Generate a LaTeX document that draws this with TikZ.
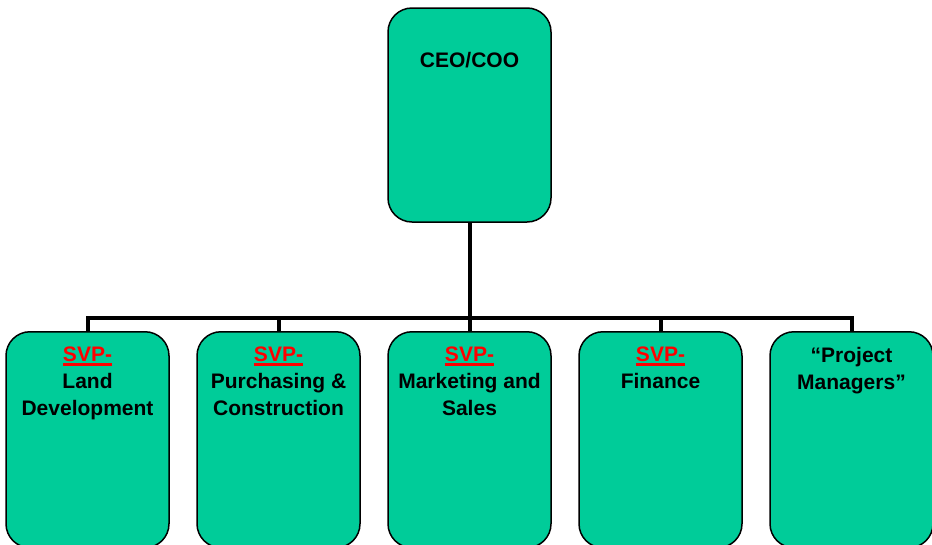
\documentclass[tikz,border=0pt]{standalone}
\usepackage{fontspec}
\setmainfont{Liberation Sans}
\usetikzlibrary{positioning}
\definecolor{boxgreen}{RGB}{0,204,153}
\definecolor{svpred}{RGB}{255,0,0}
\tikzset{
  orgbox/.style={draw=black, line width=1.5pt, fill=boxgreen, rounded corners=24pt, minimum width=163pt, minimum height=216pt, inner sep=0pt},
  lbl/.style={anchor=north, inner sep=0pt, align=center, font=\bfseries\fontsize{21}{27}\selectfont},
  conn/.style={line width=4pt},
}
\newcommand{\svp}{\textcolor{svpred}{\setbox0\hbox{SVP-}\rlap{\rule[-3.8pt]{\wd0}{2.4pt}}\box0}}
\begin{document}
\begin{tikzpicture}[x=1pt,y=-1pt]
\useasboundingbox (0,0) rectangle (932,544);
\clip (0,0) rectangle (932,544);
\node[orgbox, minimum height=214pt] (ceo) at (469.5,115) {};
\node[lbl] (ceot) at (469.5,52) {CEO/COO};
\node[orgbox, anchor=north] (b1) at (87.5,331) {};
\node[orgbox, anchor=north] (b2) at (278.5,331) {};
\node[orgbox, anchor=north] (b3) at (469.5,331) {};
\node[orgbox, anchor=north] (b4) at (660.5,331) {};
\node[orgbox, anchor=north] (b5) at (851.5,331) {};
\node[lbl] (t1) at (87.5,347) {\svp\\Land\\Development};
\node[lbl] (t2) at (278.5,347) {\svp\\Purchasing \&\\Construction};
\node[lbl] (t3) at (469.5,347) {\svp\\Marketing and\\Sales};
\node[lbl] (t4) at (660.5,347) {\svp\\Finance};
\node[lbl] (t5) at (851.5,347) {“Project\\Managers”};
\coordinate (hub) at (469.5,318);
\draw[conn] (ceo.south) -- (hub);
\draw[conn] (b1.north) -- (b1.north |- hub) -- (b5.north |- hub) -- (b5.north);
\foreach \b in {b2,b3,b4} \draw[conn] (\b.north) -- (\b.north |- hub);
\end{tikzpicture}
\end{document}
